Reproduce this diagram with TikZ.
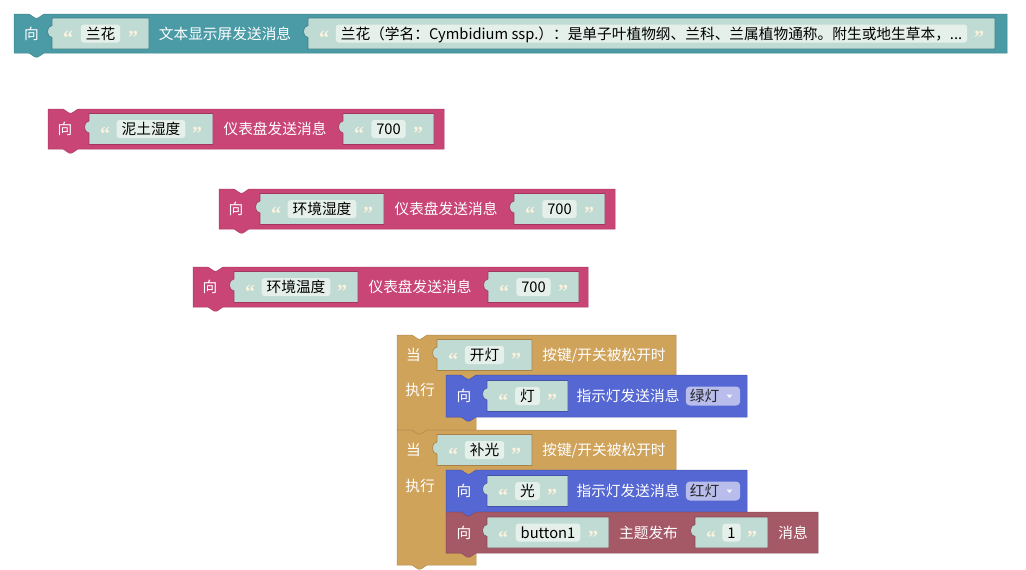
\documentclass[tikz,border=0pt]{standalone}
\usepackage{fontspec}
\newfontfamily\cjk{Noto Sans CJK SC}
\newfontfamily\qfont{Liberation Serif}
\definecolor{bkteal}{RGB}{74,155,166}
\definecolor{bkrose}{RGB}{201,69,117}
\definecolor{bkgold}{RGB}{208,163,91}
\definecolor{bkblue}{RGB}{85,103,210}
\definecolor{bkwine}{RGB}{165,89,103}
\definecolor{slotfill}{RGB}{192,219,211}
\definecolor{fieldfill}{RGB}{229,240,235}
\definecolor{ddfill}{RGB}{184,189,236}
\definecolor{quotecol}{RGB}{252,242,222}

% statement block: left, top, right, bottom, colour
\newcommand{\stmtblock}[5]{%
  \filldraw[fill=#5, draw=#5!85!black, line width=0.5pt]
    (#1,#2) -- ({#1+15},#2) -- ({#1+21},{#2+4}) -- ({#1+24},{#2+4}) -- ({#1+30},#2)
    -- (#3,#2) -- (#3,#4)
    -- ({#1+30},#4) -- ({#1+24},{#4+4}) -- ({#1+21},{#4+4}) -- ({#1+15},#4)
    -- (#1,#4) -- cycle;}
% c-shaped block: left, top, header right, header bottom, stack bottom, bar bottom, colour
\newcommand{\cblock}[7]{%
  \filldraw[fill=#7, draw=#7!85!black, line width=0.5pt]
    (#1,#2) -- ({#1+15},#2) -- ({#1+21},{#2+4}) -- ({#1+24},{#2+4}) -- ({#1+30},#2)
    -- (#3,#2) -- (#3,#4)
    -- ({#1+79},#4) -- ({#1+73},{#4+4}) -- ({#1+70},{#4+4}) -- ({#1+64},#4)
    -- ({#1+49},#4) -- ({#1+49},#5) -- ({#1+79},#5) -- ({#1+79},#6)
    -- ({#1+30},#6) -- ({#1+24},{#6+4}) -- ({#1+21},{#6+4}) -- ({#1+15},#6)
    -- (#1,#6) -- cycle;}
% text slot: name, x0, x1, mid y, text, edge colour
\newcommand{\inslot}[6]{%
  \filldraw[fill=slotfill, draw=#6, line width=0.6pt]
    (#2,{#4-15.5}) -- (#3,{#4-15.5}) -- (#3,{#4+15.5}) -- (#2,{#4+15.5}) -- (#2,{#4+4})
    .. controls ({#2-6},{#4+4}) and ({#2-6},{#4-8}) .. (#2,{#4-8}) -- cycle;
  \node[qmark] (#1-oq) at ({#2+16},{#4+11.5}) {“};
  \node[field] (#1) at ({(#2+#3)/2},#4) {#5};
  \node[qmark] (#1-cq) at ({#3-16},{#4+11.5}) {”};}

\begin{document}
\begin{tikzpicture}[x=1pt, y=-1pt,
    every node/.style={font=\cjk\fontsize{14.7}{17}\selectfont, text height=13pt, text depth=2pt, inner sep=0pt},
    lbl/.style={text=white},
    field/.style={fill=fieldfill, rounded corners=3pt, inner xsep=5pt, minimum height=18pt, text=black},
    qmark/.style={font=\qfont\bfseries\fontsize{20}{20}\selectfont, text=quotecol, anchor=base},
    dd/.style={fill=ddfill, rounded corners=4pt, inner xsep=4pt, minimum height=19pt, text=black!85},
    ddtip/.style={fill=white!85!ddfill}]
  \useasboundingbox (0,0) rectangle (1026,570);

  % text display block
  \stmtblock{14}{14}{1007}{53}{bkteal}
  \node[lbl] (t-to) at (31.5,33.5) {向};
  \inslot{t-s1}{52}{149}{33.5}{兰花}{bkteal!80!black}
  \node[lbl] (t-lbl) at (225,33.5) {文本显示屏发送消息};
  \inslot{t-s2}{308}{995}{33.5}{兰花（学名：Cymbidium ssp.）：是单子叶植物纲、兰科、兰属植物通称。附生或地生草本，...}{bkteal!80!black}

  % dashboard blocks
  \stmtblock{48}{109}{444}{149}{bkrose}
  \node[lbl] (m1-to) at (65,129) {向};
  \inslot{m1-s1}{89}{213}{129}{泥土湿度}{bkrose!80!black}
  \node[lbl] (m1-lbl) at (275,129) {仪表盘发送消息};
  \inslot{m1-s2}{343}{434}{129}{700}{bkrose!80!black}

  \stmtblock{219}{189}{615}{229}{bkrose}
  \node[lbl] (m2-to) at (236,209) {向};
  \inslot{m2-s1}{260}{384}{209}{环境湿度}{bkrose!80!black}
  \node[lbl] (m2-lbl) at (446,209) {仪表盘发送消息};
  \inslot{m2-s2}{514}{605}{209}{700}{bkrose!80!black}

  \stmtblock{193}{267}{588}{307}{bkrose}
  \node[lbl] (m3-to) at (210,287) {向};
  \inslot{m3-s1}{234}{358}{287}{环境温度}{bkrose!80!black}
  \node[lbl] (m3-lbl) at (420,287) {仪表盘发送消息};
  \inslot{m3-s2}{488}{579}{287}{700}{bkrose!80!black}

  % button events
  \cblock{397}{335}{676}{375}{417}{430}{bkgold}
  \cblock{397}{430}{676}{470}{553}{565}{bkgold}
  \stmtblock{446}{375}{747}{417}{bkblue}
  \stmtblock{446}{470}{747}{512}{bkblue}
  \stmtblock{446}{512}{818}{553}{bkwine}

  \node[lbl] (g1-when) at (413.5,355) {当};
  \inslot{g1-s}{437}{532}{355}{开灯}{bkgold!80!black}
  \node[lbl] (g1-lbl) at (604,355) {按键/开关被松开时};
  \node[lbl] (g1-do) at (420,390) {执行};
  \node[lbl] (b1-to) at (464,396) {向};
  \inslot{b1-s}{487}{568}{396}{灯}{bkblue!80!black}
  \node[lbl] (b1-lbl) at (628,396) {指示灯发送消息};
  \node[dd] (b1-dd) at (713,396) {绿灯\kern17pt};
  \fill[ddtip] ([xshift=-14pt,yshift=1.5pt]b1-dd.east) -- ++(6,0) -- ++(-3,3.5) -- cycle;

  \node[lbl] (g2-when) at (413.5,450) {当};
  \inslot{g2-s}{437}{532}{450}{补光}{bkgold!80!black}
  \node[lbl] (g2-lbl) at (604,450) {按键/开关被松开时};
  \node[lbl] (g2-do) at (420,486) {执行};
  \node[lbl] (b2-to) at (464,491) {向};
  \inslot{b2-s}{487}{568}{491}{光}{bkblue!80!black}
  \node[lbl] (b2-lbl) at (628,491) {指示灯发送消息};
  \node[dd] (b2-dd) at (713,491) {红灯\kern17pt};
  \fill[ddtip] ([xshift=-14pt,yshift=1.5pt]b2-dd.east) -- ++(6,0) -- ++(-3,3.5) -- cycle;

  \node[lbl] (r-to) at (464,532.5) {向};
  \inslot{r-s1}{487}{609}{532.5}{button1}{bkwine!80!black}
  \node[lbl] (r-lbl) at (648.5,532.5) {主题发布};
  \inslot{r-s2}{695}{768}{532.5}{1}{bkwine!80!black}
  \node[lbl] (r-msg) at (793,532.5) {消息};
\end{tikzpicture}
\end{document}
